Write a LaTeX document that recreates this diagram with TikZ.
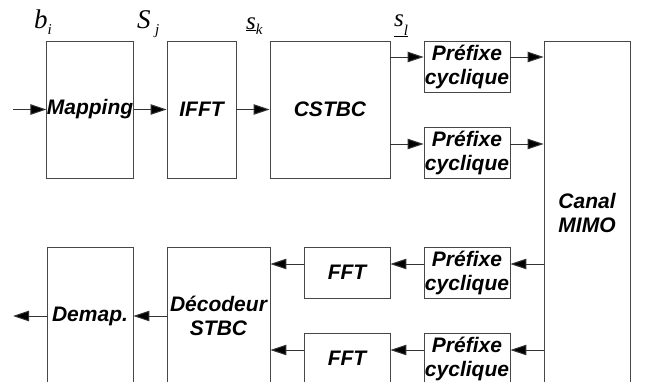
\documentclass[tikz,border=0pt]{standalone}
\usepackage{fontspec}
\setmainfont{Liberation Sans}
\newfontfamily\tnr{Liberation Serif}
\usetikzlibrary{arrows.meta}
\begin{document}
\begin{tikzpicture}[x=1pt,y=-1pt,
  blk/.style={draw=black!72, line width=0.9pt, inner sep=0pt, fill=white,
    font=\fontsize{21}{24}\selectfont\bfseries\itshape, align=center},
  arr/.style={draw=black!80, line width=1pt,
    -{Triangle[length=16pt,width=10.5pt,fill=black]}},
  sym/.style={inner sep=0pt, anchor=base west, font=\tnr\itshape},
]
\useasboundingbox (0,0) rectangle (645,381);
\clip (0,0) rectangle (645,381);
% --- emitter
\node[blk, minimum width=86pt, minimum height=137pt] (map) at (90,109.5) {Mapping};
\node[blk, minimum width=69pt, minimum height=137pt] (ifft) at (201.5,109.5) {IFFT};
\node[blk, minimum width=120pt, minimum height=137pt] (cstbc) at (330,109.5) {CSTBC};
\node[blk, minimum width=86pt, minimum height=51pt] (pt1) at (467,66.5) {Préfixe\\cyclique};
\node[blk, minimum width=86pt, minimum height=51pt] (pt2) at (467,152.5) {Préfixe\\cyclique};
\node[blk, minimum width=86pt, minimum height=344pt] (canal) at (587,213) {Canal\\MIMO};
% --- receiver
\node[blk, minimum width=86pt, minimum height=51pt] (pb1) at (467,272.5) {Préfixe\\cyclique};
\node[blk, minimum width=86pt, minimum height=51pt] (pb2) at (467,358.5) {Préfixe\\cyclique};
\node[blk, minimum width=86pt, minimum height=51pt] (fft1) at (347,272.5) {FFT};
\node[blk, minimum width=86pt, minimum height=51pt] (fft2) at (347,358.5) {FFT};
\node[blk, minimum width=103pt, minimum height=138pt] (dec) at (218.5,316) {\fontsize{21}{26}\selectfont Décodeur\\STBC};
\node[blk, minimum width=86pt, minimum height=138pt] (demap) at (90,316) {Demap.};
% --- symbols
\node[sym] (lb) at (34,28) {\fontsize{27}{27}\selectfont b\raisebox{-6pt}{\fontsize{15}{15}\selectfont i}};
\node[sym] (lS) at (137,28) {\fontsize{27}{27}\selectfont S\,\raisebox{-6pt}{\fontsize{15}{15}\selectfont j}};
\node[sym] (lsk) at (246,29) {\fontsize{25}{25}\selectfont \underline{s}\raisebox{-5pt}{\fontsize{15}{15}\selectfont k}};
\node[sym] (lsl) at (394,26) {\fontsize{25}{25}\selectfont \underline{s\raisebox{-9pt}{\fontsize{15}{15}\selectfont l}}};
% --- row coordinates
\coordinate (r1) at (0,57);
\coordinate (r2) at (0,144);
\coordinate (r3) at (0,264);
\coordinate (r4) at (0,350);
\coordinate (in) at (13,109.5);
\coordinate (out) at (13,316);
% --- connectors
\draw[arr] (in) -- (map.west);
\draw[arr] (map.east) -- (ifft.west);
\draw[arr] (ifft.east) -- (cstbc.west);
\draw[arr] (cstbc.east |- r1) -- (pt1.west |- r1);
\draw[arr] (cstbc.east |- r2) -- (pt2.west |- r2);
\draw[arr] (pt1.east |- r1) -- (canal.west |- r1);
\draw[arr] (pt2.east |- r2) -- (canal.west |- r2);
\draw[arr] (canal.west |- r3) -- (pb1.east |- r3);
\draw[arr] (canal.west |- r4) -- (pb2.east |- r4);
\draw[arr] (pb1.west |- r3) -- (fft1.east |- r3);
\draw[arr] (pb2.west |- r4) -- (fft2.east |- r4);
\draw[arr] (fft1.west |- r3) -- (dec.east |- r3);
\draw[arr] (fft2.west |- r4) -- (dec.east |- r4);
\draw[arr] (dec.west) -- (demap.east);
\draw[arr] (demap.west) -- (out);
\end{tikzpicture}
\end{document}
